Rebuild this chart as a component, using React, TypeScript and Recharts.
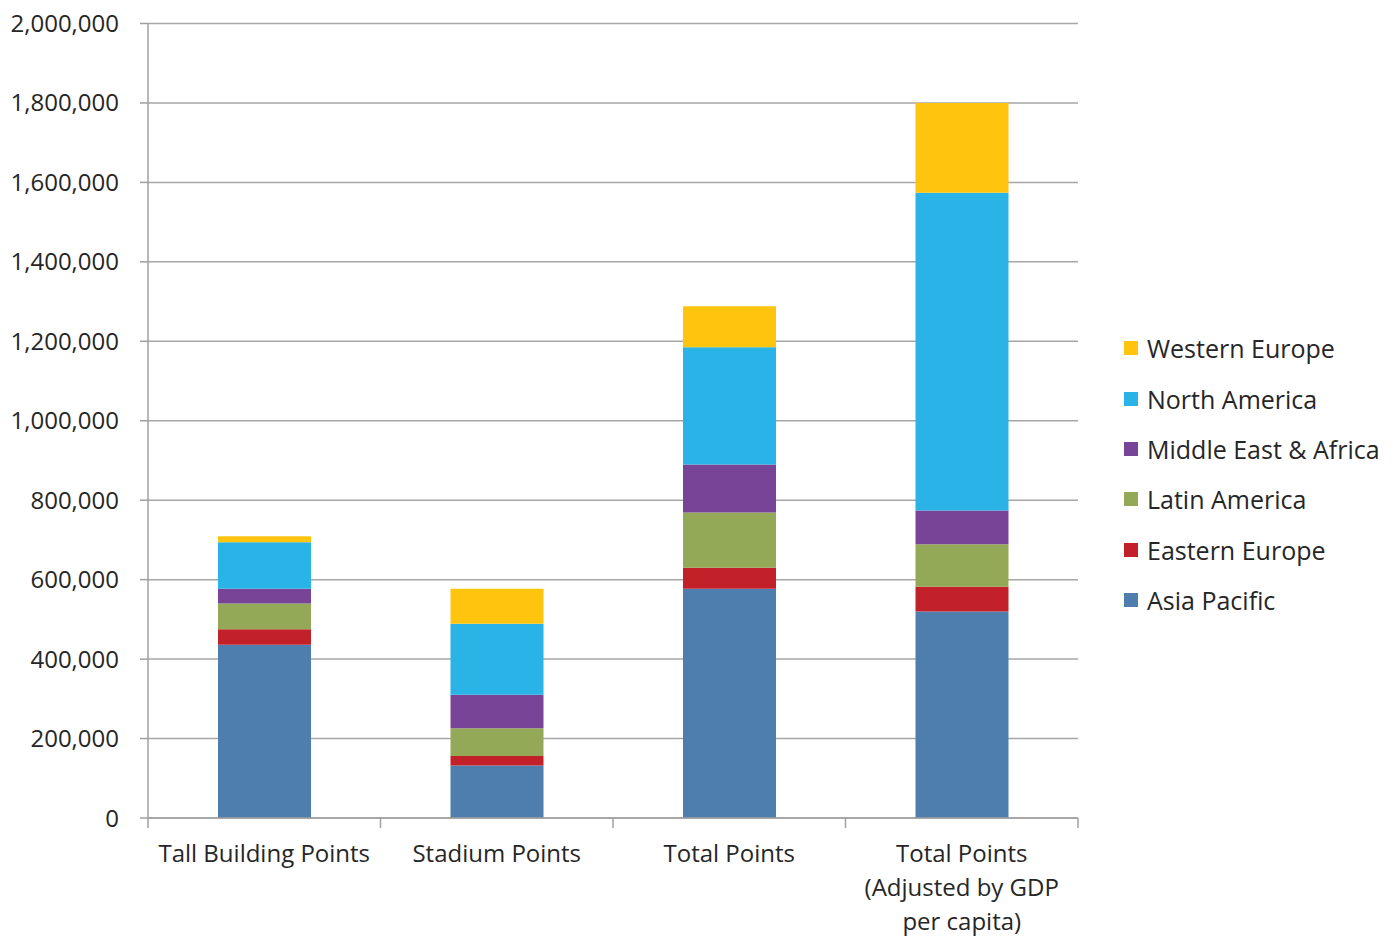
import { Bar, BarChart, CartesianGrid, Legend, XAxis, YAxis } from 'recharts';

// categories (\n marks where the label wraps)
const categories = [
	'Tall Building Points',
	'Stadium Points',
	'Total Points',
	'Total Points\n(Adjusted by GDP\nper capita)',
];

// series values, bottom of the stack first
const asiaPacific = [436000, 132000, 577000, 520000];
const easternEurope = [39000, 24000, 53000, 62000];
const latinAmerica = [65000, 70000, 139000, 107000];
const middleEastAfrica = [37000, 84000, 121000, 85000];
const northAmerica = [117000, 179000, 295000, 800000];
const westernEurope = [15000, 88000, 103000, 226000];

const yTicks = [0, 200000, 400000, 600000, 800000, 1000000, 1200000, 1400000, 1600000, 1800000, 2000000];

const series = [
	{ key: 'asiaPacific', name: 'Asia Pacific', color: '#4d7eae', values: asiaPacific },
	{ key: 'easternEurope', name: 'Eastern Europe', color: '#c3212a', values: easternEurope },
	{ key: 'latinAmerica', name: 'Latin America', color: '#93a957', values: latinAmerica },
	{ key: 'middleEastAfrica', name: 'Middle East & Africa', color: '#784497', values: middleEastAfrica },
	{ key: 'northAmerica', name: 'North America', color: '#29b3e6', values: northAmerica },
	{ key: 'westernEurope', name: 'Western Europe', color: '#fec40e', values: westernEurope },
];

const data = categories.map((name, i) => {
	const row: Record<string, string | number> = { name };
	series.forEach((s) => {
		row[s.key] = s.values[i];
	});
	return row;
});

const FONT = '"Open Sans", sans-serif';
const TEXT = '#262626';
const AXIS = '#a0a0a0';

const CategoryTick = (props: any) => {
	const { x, y, payload, index } = props;
	const half = payload.offset ?? 116.25;
	const lines = String(payload.value).split('\n');
	return (
		<g>
			<line x1={x - half} x2={x - half} y1={y} y2={y + 10} stroke={AXIS} strokeWidth={1.5} />
			{index === categories.length - 1 && (
				<line x1={x + half} x2={x + half} y1={y} y2={y + 10} stroke={AXIS} strokeWidth={1.5} />
			)}
			<text textAnchor="middle" fill={TEXT} fontFamily={FONT} fontSize={24}>
				{lines.map((l, i) => (
					<tspan key={i} x={x} y={y + 44 + i * 34}>
						{l}
					</tspan>
				))}
			</text>
		</g>
	);
};

const LegendBox = () => (
	<div style={{ width: 270, paddingLeft: 46, boxSizing: 'border-box', fontFamily: FONT }}>
		{[...series].reverse().map((s) => (
			<div
				key={s.key}
				style={{ height: 50.4, display: 'flex', alignItems: 'center', fontSize: 25, color: TEXT }}
			>
				<span style={{ width: 14, height: 14, background: s.color, marginRight: 9, flex: 'none' }} />
				<span style={{ whiteSpace: 'nowrap' }}>{s.name}</span>
			</div>
		))}
	</div>
);

const App = () => {
	return (
		<div style={{ position: 'absolute', left: 0, top: 0, background: '#fff' }}>
			<BarChart
				width={1394}
				height={938}
				data={data}
				margin={{ top: 23.5, right: 46, bottom: 0, left: 8 }}
			>
				<CartesianGrid vertical={false} stroke="#a6a6a6" strokeWidth={1.5} />
				<XAxis
					dataKey="name"
					height={120}
					interval={0}
					tickLine={false}
					tickSize={0}
					tickMargin={0}
					axisLine={{ stroke: AXIS, strokeWidth: 1.5 }}
					tick={<CategoryTick />}
				/>
				<YAxis
					width={140}
					domain={[0, 2000000]}
					ticks={yTicks}
					interval={0}
					tickSize={8}
					tickMargin={21}
					tickLine={{ stroke: AXIS, strokeWidth: 1.5 }}
					axisLine={{ stroke: AXIS, strokeWidth: 1.5 }}
					tick={{ fill: TEXT, fontFamily: FONT, fontSize: 24 }}
					tickFormatter={(v: number) => v.toLocaleString('en-US')}
				/>
				<Legend
					layout="vertical"
					align="right"
					verticalAlign="middle"
					wrapperStyle={{ top: 323 }}
					content={<LegendBox />}
				/>
				{series.map((s) => (
					<Bar
						key={s.key}
						dataKey={s.key}
						name={s.name}
						stackId="a"
						fill={s.color}
						barSize={93}
						isAnimationActive={false}
					/>
				))}
			</BarChart>
		</div>
	);
};

export default App;
